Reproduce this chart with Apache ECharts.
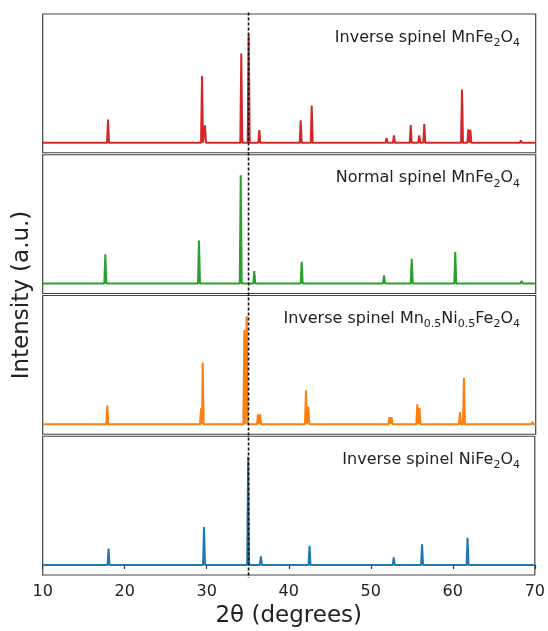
<!DOCTYPE html>
<html>
<head>
<meta charset="utf-8">
<title>XRD patterns of spinel ferrites</title>
<script src="https://cdn.jsdelivr.net/npm/echarts@6/dist/echarts.min.js"></script>
<style>
  html, body { margin: 0; padding: 0; background: #fff; }
  #chart { width: 548px; height: 631px; }
</style>
</head>
<body>
<div id="chart"></div>
<script>
// 2θ axis ticks and the reference line through the main (311) reflection
const xTicks = [10, 20, 30, 40, 50, 60, 70];
const refAngle = 35.05;

// Peak positions (2θ, degrees) and normalised intensities for each pattern
const mnInvPos = [17.95, 29.39, 29.75, 34.17, 35.07, 36.36, 41.40, 42.74, 46.18, 51.86, 52.75, 54.79, 55.83, 56.44, 61.03, 61.80, 62.05, 68.20];
const mnInvInt = [0.215, 0.616, 0.160, 0.825, 1.000, 0.117, 0.206, 0.344, 0.016, 0.043, 0.068, 0.163, 0.068, 0.173, 0.492, 0.123, 0.120, 0.021];

const mnNormPos = [17.62, 29.02, 34.10, 35.75, 41.52, 51.54, 54.91, 60.21, 63.34, 68.29];
const mnNormInt = [0.270, 0.397, 1.000, 0.114, 0.200, 0.074, 0.228, 0.290, 0.018, 0.025];

const mnNiPos = [14.60, 17.86, 29.27, 29.47, 34.54, 34.82, 36.20, 36.46, 42.04, 42.33, 46.10, 52.20, 52.46, 55.59, 55.86, 60.78, 61.27, 69.60];
const mnNiInt = [0.010, 0.172, 0.148, 0.570, 0.870, 1.000, 0.092, 0.092, 0.314, 0.160, 0.012, 0.065, 0.065, 0.185, 0.150, 0.110, 0.430, 0.020];

const niPos = [18.03, 23.40, 29.67, 35.05, 36.60, 42.53, 46.60, 52.80, 56.25, 61.80, 65.00];
const niInt = [0.152, 0.008, 0.350, 1.000, 0.080, 0.176, 0.008, 0.071, 0.192, 0.250, 0.010];

// Panel labels (rich-text fragments: plain text and subscripts)
const labelRed    = '{t|Inverse spinel MnFe}{s|2}{t|O}{s|4}';
const labelGreen  = '{t|Normal spinel MnFe}{s|2}{t|O}{s|4}';
const labelOrange = '{t|Inverse spinel Mn}{s|0.5}{t|Ni}{s|0.5}{t|Fe}{s|2}{t|O}{s|4}';
const labelBlue   = '{t|Inverse spinel NiFe}{s|2}{t|O}{s|4}';

const FONT = 'DejaVu Sans';
const xMin = 10, xMax = 70;
const peakHalfWidth = 0.12;

// Turn a stick pattern into a line profile: flat baseline with a narrow spike per peak
function profile(pos, inten) {
  const pts = [[xMin, 0]];
  pos.forEach((p, i) => {
    pts.push([p - peakHalfWidth, 0]);
    pts.push([p, inten[i]]);
    pts.push([p + peakHalfWidth, 0]);
  });
  pts.push([xMax, 0]);
  return pts;
}

const panels = [
  { pos: mnInvPos,  inten: mnInvInt,  color: '#d62728', label: labelRed },
  { pos: mnNormPos, inten: mnNormInt, color: '#2ca02c', label: labelGreen },
  { pos: mnNiPos,   inten: mnNiInt,   color: '#ff7f0e', label: labelOrange },
  { pos: niPos,     inten: niInt,     color: '#1f77b4', label: labelBlue }
];

const plotLeft = 42.7, plotRight = 12.3;
const panelTop0 = 14, panelH = 138.75, panelGap = 2;
const labelRight = 520;

const grids = [], xAxes = [], yAxes = [], series = [], graphics = [];
panels.forEach((pnl, i) => {
  const top = panelTop0 + i * (panelH + panelGap);
  const last = i === panels.length - 1;
  grids.push({
    left: plotLeft, right: plotRight, top: top, height: panelH,
    show: true, borderColor: '#444', borderWidth: 1.2, backgroundColor: 'transparent'
  });
  xAxes.push({
    type: 'value', gridIndex: i, min: xMin, max: xMax, interval: 10,
    axisLine: { show: false },
    splitLine: { show: false },
    axisTick: { show: last, inside: false, length: 4, lineStyle: { color: '#333', width: 1.2 } },
    axisLabel: { show: last, margin: 9, fontFamily: FONT, fontSize: 16, color: '#222' },
    name: last ? '2θ (degrees)' : '',
    nameLocation: 'middle', nameGap: 30,
    nameTextStyle: { fontFamily: FONT, fontSize: 23, color: '#222' }
  });
  yAxes.push({
    type: 'value', gridIndex: i, min: -0.093, max: 1.19,
    show: false, splitLine: { show: false }
  });
  series.push({
    type: 'line', xAxisIndex: i, yAxisIndex: i,
    data: profile(pnl.pos, pnl.inten),
    showSymbol: false, symbol: 'none',
    lineStyle: { color: pnl.color, width: 2 },
    itemStyle: { color: pnl.color },
    silent: true, z: 2
  });
  graphics.push({
    type: 'text', x: labelRight, y: top + 23.5, z: 5,
    style: {
      text: pnl.label, align: 'right', verticalAlign: 'middle',
      rich: {
        t: { fontFamily: FONT, fontSize: 16, fill: '#222', color: '#222' },
        s: { fontFamily: FONT, fontSize: 11, fill: '#222', color: '#222', padding: [11, 0, 0, 0] }
      }
    }
  });
});

// Y-axis title shared by all panels
graphics.push({
  type: 'text', x: 21.7, y: 295, rotation: Math.PI / 2, z: 5,
  style: {
    text: 'Intensity (a.u.)', align: 'center', verticalAlign: 'middle',
    fontFamily: FONT, fontSize: 23, fill: '#222'
  }
});

const chart = echarts.init(document.getElementById('chart'), null, { renderer: 'canvas' });
chart.setOption({
  animation: false,
  backgroundColor: '#fff',
  grid: grids,
  xAxis: xAxes,
  yAxis: yAxes,
  series: series,
  graphic: graphics
});

// Dotted guide line at the main reflection, running through every panel
const gx = chart.convertToPixel({ xAxisIndex: 0 }, refAngle);
graphics.push({
  type: 'line', z: 10, silent: true,
  shape: { x1: gx, y1: 12.5, x2: gx, y2: 578 },
  style: { stroke: '#111', lineWidth: 1.6, lineDash: [3, 2] }
});
chart.setOption({ graphic: graphics });
</script>
</body>
</html>
